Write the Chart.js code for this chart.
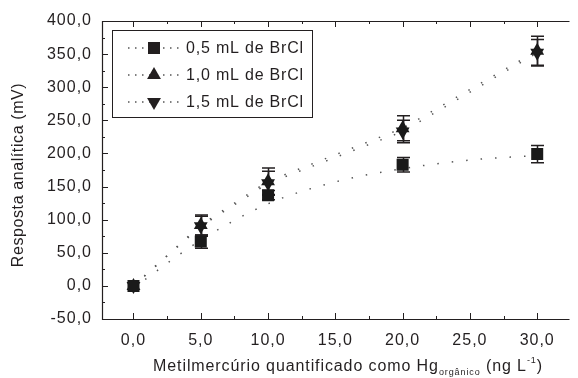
<!DOCTYPE html>
<html>
<head>
<meta charset="utf-8">
<script src="https://cdn.jsdelivr.net/npm/chart.js@4.4.1/dist/chart.umd.min.js"></script>
<style>
  html, body { margin: 0; padding: 0; background: #fff; }
  #wrap { width: 578px; height: 378px; }
</style>
</head>
<body>
<div id="wrap"><canvas id="chart" width="578" height="378"></canvas></div>
<script>
// values
const seriesLabels = ['0,5 mL de BrCl', '1,0 mL de BrCl', '1,5 mL de BrCl'];
const concentrations = [0, 5, 10, 20, 30];
const resp05 = [0, 67, 137, 183, 199];
const err05 = [0, 10, 7, 11, 13];
const resp10 = [0, 92, 158, 238, 355];
const err10 = [0, 15, 20, 19, 22];
const resp15 = [0, 90, 155, 233, 352];
const err15 = [0, 15, 18, 17, 20];
// dotted trend curve of the 0,5 mL series
const fitX05 = [0, 5, 10, 15, 20, 25, 30];
const fit05 = [-3, 69, 124, 157, 177, 190, 197];
const xTicks = [0, 5, 10, 15, 20, 25, 30];
const yTicks = [-50, 0, 50, 100, 150, 200, 250, 300, 350, 400];

const ink = '#231f20';
const FONT = 'Liberation Sans, Arial, sans-serif';
const toLabel = v => v.toFixed(1).replace('.', ',');
const pts = (xs, ys) => xs.map((x, i) => ({ x: x, y: ys[i] }));

// error bars, axes box, inward ticks, titles and legend
const decorations = {
  id: 'decorations',
  beforeLayout(chart) { chart.ctx.letterSpacing = '1px'; },
  beforeDraw(chart) { chart.ctx.letterSpacing = '1px'; },
  beforeDatasetsDraw(chart) {
    const { ctx, scales: { x, y } } = chart;
    ctx.save();
    ctx.strokeStyle = ink;
    ctx.lineWidth = 1.5;
    chart.data.datasets.forEach(ds => {
      if (!ds.errors) return;
      ds.data.forEach((p, i) => {
        const e = ds.errors[i];
        if (!e) return;
        const px = Math.round(x.getPixelForValue(p.x)) + 0.5;
        const t = y.getPixelForValue(p.y + e);
        const b = y.getPixelForValue(p.y - e);
        ctx.beginPath();
        ctx.moveTo(px, t); ctx.lineTo(px, b);
        ctx.moveTo(px - 6.5, t); ctx.lineTo(px + 6.5, t);
        ctx.moveTo(px - 6.5, b); ctx.lineTo(px + 6.5, b);
        ctx.stroke();
      });
    });
    ctx.restore();
  },
  afterDraw(chart) {
    const { ctx, chartArea: a, scales: { x, y } } = chart;
    ctx.save();
    ctx.strokeStyle = ink;
    ctx.fillStyle = ink;
    ctx.lineWidth = 1.2;
    // box (right side falls outside the picture)
    ctx.beginPath();
    ctx.moveTo(a.right, a.top + 0.5); ctx.lineTo(a.left + 0.5, a.top + 0.5);
    ctx.lineTo(a.left + 0.5, a.bottom + 0.5); ctx.lineTo(a.right, a.bottom + 0.5);
    ctx.stroke();
    // ticks pointing into the plot
    ctx.lineWidth = 1;
    ctx.beginPath();
    xTicks.forEach((v, i) => {
      const px = Math.round(x.getPixelForValue(v)) + 0.5;
      ctx.moveTo(px, a.bottom); ctx.lineTo(px, a.bottom - 6);
      ctx.moveTo(px, a.top); ctx.lineTo(px, a.top + 6);
      if (i < xTicks.length - 1) {
        const mx = Math.round(x.getPixelForValue((v + xTicks[i + 1]) / 2)) + 0.5;
        ctx.moveTo(mx, a.bottom); ctx.lineTo(mx, a.bottom - 3);
        ctx.moveTo(mx, a.top); ctx.lineTo(mx, a.top + 3);
      }
    });
    yTicks.forEach((v, i) => {
      const py = Math.round(y.getPixelForValue(v)) + 0.5;
      ctx.moveTo(a.left, py); ctx.lineTo(a.left + 6, py);
      if (i < yTicks.length - 1) {
        const my = Math.round(y.getPixelForValue((v + yTicks[i + 1]) / 2)) + 0.5;
        ctx.moveTo(a.left, my); ctx.lineTo(a.left + 3, my);
      }
    });
    ctx.stroke();

    // y title
    ctx.letterSpacing = '0.6px';
    ctx.font = '16px ' + FONT;
    ctx.textAlign = 'center';
    ctx.textBaseline = 'middle';
    ctx.save();
    ctx.translate(19, 175);
    ctx.rotate(-Math.PI / 2);
    ctx.fillText('Resposta analítica (mV)', 0, 0);
    ctx.restore();

    // x title with subscript and superscript
    ctx.letterSpacing = '0.9px';
    const parts = [
      { t: 'Metilmercúrio quantificado como Hg', f: '16px ', dy: 0 },
      { t: 'orgânico', f: '9px ', dy: 4 },
      { t: ' (ng L', f: '16px ', dy: 0 },
      { t: '-1', f: '9px ', dy: -8 },
      { t: ')', f: '16px ', dy: 0 }
    ];
    ctx.textAlign = 'left';
    ctx.textBaseline = 'alphabetic';
    let total = 0;
    parts.forEach(p => { ctx.font = p.f + FONT; p.w = ctx.measureText(p.t).width; total += p.w; });
    let cx = 348 - total / 2;
    parts.forEach(p => { ctx.font = p.f + FONT; ctx.fillText(p.t, cx, 371 + p.dy); cx += p.w; });

    // legend
    ctx.letterSpacing = '0.8px';
    ctx.lineWidth = 1;
    ctx.strokeRect(112.5, 30.5, 200, 87);
    const rows = [48, 75, 102];
    const styled = [0, 2, 3];
    rows.forEach((ry, i) => {
      const ds = chart.data.datasets[styled[i]];
      ctx.save();
      ctx.strokeStyle = '#555';
      ctx.lineWidth = 1.5;
      ctx.setLineDash([1.5, 5.5]);
      ctx.beginPath();
      ctx.moveTo(128, ry); ctx.lineTo(182, ry);
      ctx.stroke();
      ctx.restore();
      ctx.fillStyle = ink;
      Chart.helpers.drawPoint(ctx, {
        pointStyle: ds.pointStyle, radius: ds.pointRadius,
        rotation: ds.pointRotation || 0, borderWidth: 0
      }, 154, ry);
      ctx.font = '16px ' + FONT;
      ctx.textBaseline = 'middle';
      ctx.fillText(seriesLabels[i], 186, ry + 1);
    });
    ctx.restore();
  }
};

const dotted = { borderColor: '#555', borderWidth: 1.5, borderDash: [1.5, 13] };

new Chart(document.getElementById('chart'), {
  type: 'scatter',
  data: {
    datasets: [
      {
        label: seriesLabels[0], data: pts(concentrations, resp05), errors: err05,
        showLine: false, pointStyle: 'rect', pointRadius: 8.5, pointRotation: 0,
        backgroundColor: '#1a1a1a', borderWidth: 0
      },
      Object.assign({
        label: 'ajuste', data: pts(fitX05, fit05), showLine: true,
        cubicInterpolationMode: 'monotone', pointRadius: 0
      }, dotted),
      Object.assign({
        label: seriesLabels[1], data: pts(concentrations, resp10), errors: err10,
        showLine: true, pointStyle: 'triangle', pointRadius: 8, pointRotation: 0,
        backgroundColor: '#1a1a1a', pointBorderWidth: 0
      }, dotted),
      Object.assign({
        label: seriesLabels[2], data: pts(concentrations, resp15), errors: err15,
        showLine: true, pointStyle: 'triangle', pointRadius: 8, pointRotation: 180,
        backgroundColor: '#1a1a1a', pointBorderWidth: 0
      }, dotted)
    ]
  },
  options: {
    responsive: false,
    animation: false,
    events: [],
    layout: { padding: { top: 21, right: 0, left: 0, bottom: 0 } },
    plugins: { legend: { display: false }, tooltip: { enabled: false } },
    scales: {
      x: {
        type: 'linear', min: -2.34, max: 32.4,
        grid: { display: false }, border: { display: false },
        ticks: {
          color: ink, font: { family: FONT, size: 16 }, padding: 4,
          maxRotation: 0, autoSkip: false, callback: v => toLabel(v)
        },
        afterBuildTicks: s => { s.ticks = xTicks.map(v => ({ value: v })); },
        afterFit: s => { s.height = 59; }
      },
      y: {
        type: 'linear', min: -50, max: 400,
        grid: { display: false }, border: { display: false },
        ticks: {
          color: ink, font: { family: FONT, size: 16 }, padding: 2,
          autoSkip: false, callback: v => toLabel(v)
        },
        afterBuildTicks: s => { s.ticks = yTicks.map(v => ({ value: v })); },
        afterFit: s => { s.width = 102; }
      }
    }
  },
  plugins: [decorations]
});
</script>
</body>
</html>
